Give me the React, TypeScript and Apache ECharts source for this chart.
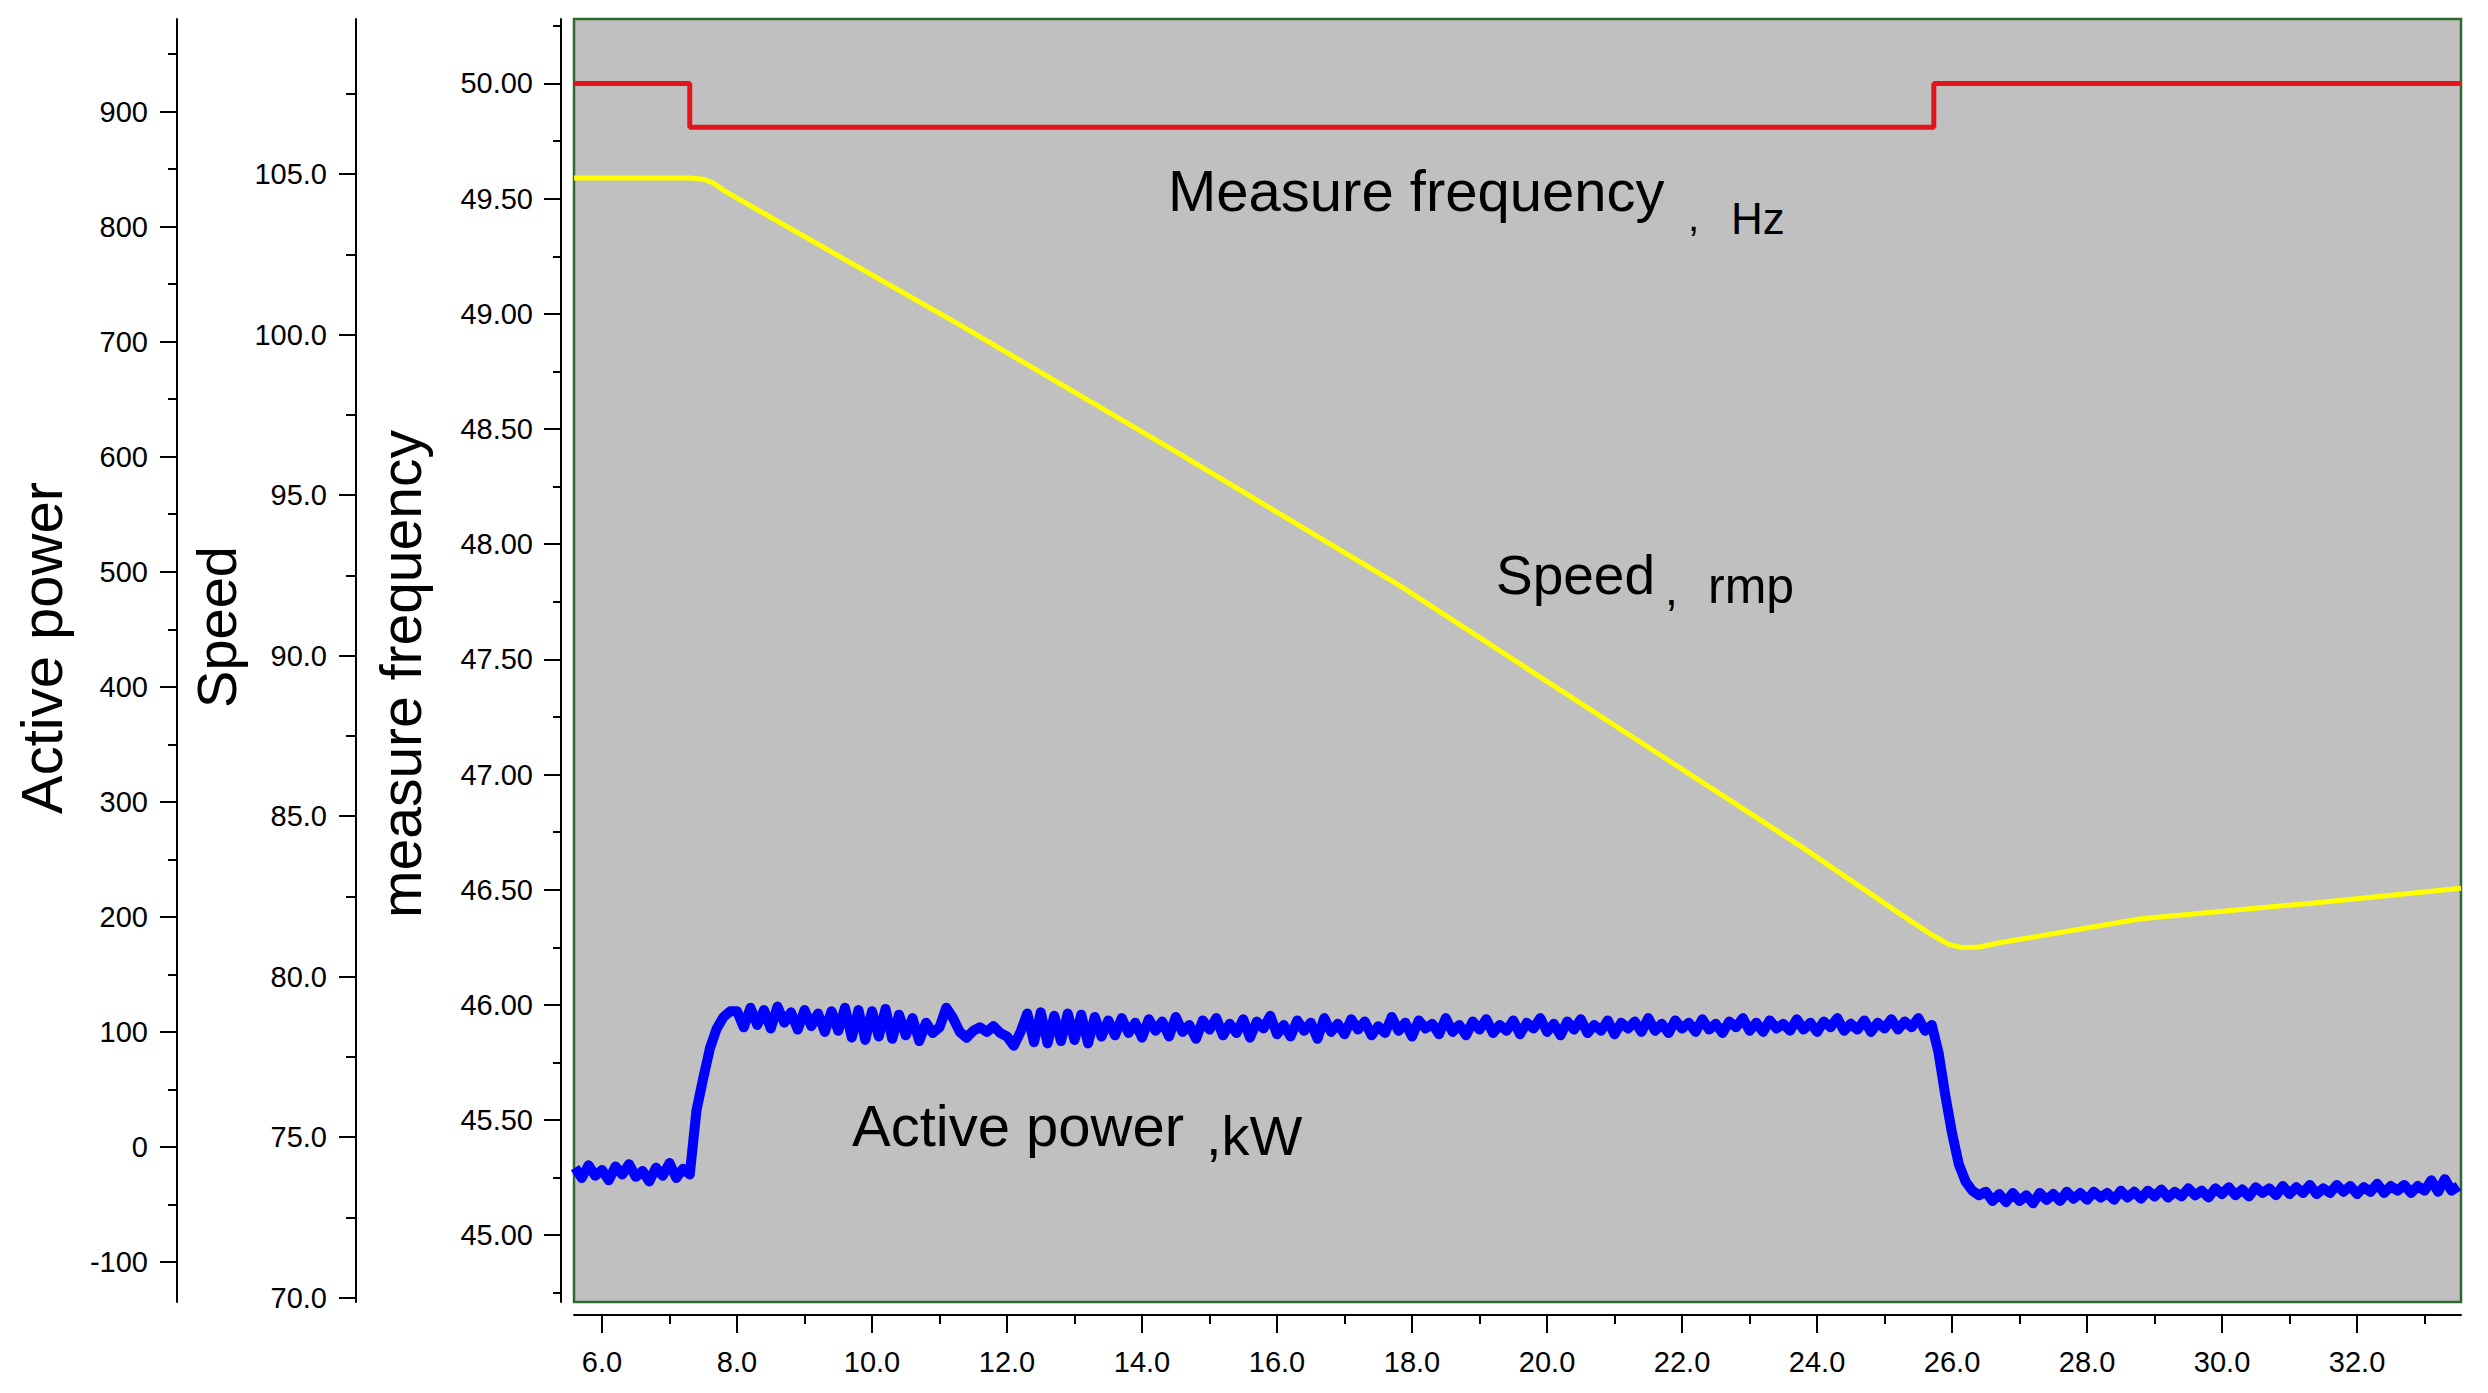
import React, { useEffect, useRef } from "react";
import * as echarts from "echarts";

const FONT = '"Liberation Sans", Arial, sans-serif';

// ---- axis ranges ----
const X_RANGE = [5.585, 33.54];
const FREQ_RANGE = [44.71, 50.28];
const SPEED_RANGE = [69.86, 109.83];
const POWER_RANGE = [-134.8, 980.5];

// ---- tick values ----
const X_LABELS = [6, 8, 10, 12, 14, 16, 18, 20, 22, 24, 26, 28, 30, 32];
const X_MINOR = [7, 9, 11, 13, 15, 17, 19, 21, 23, 25, 27, 29, 31, 33];
const FREQ_LABELS = [45, 45.5, 46, 46.5, 47, 47.5, 48, 48.5, 49, 49.5, 50];
const FREQ_MINOR = [44.75, 45.25, 45.75, 46.25, 46.75, 47.25, 47.75, 48.25, 48.75, 49.25, 49.75, 50.25];
const SPEED_LABELS = [70, 75, 80, 85, 90, 95, 100, 105];
const SPEED_MINOR = [72.5, 77.5, 82.5, 87.5, 92.5, 97.5, 102.5, 107.5];
const POWER_LABELS = [-100, 0, 100, 200, 300, 400, 500, 600, 700, 800, 900];
const POWER_MINOR = [-50, 50, 150, 250, 350, 450, 550, 650, 750, 850, 950];

// ---- measured frequency (Hz) ----
const FREQ_T = [5.585, 7.3, 7.3, 25.73, 25.73, 33.54];
const FREQ_HZ = [50.0, 50.0, 49.81, 49.81, 50.0, 50.0];

// ---- speed (rpm) ----
const SPEED_T = [5.585, 7.3, 7.5, 7.65, 7.8, 8.0, 11.3, 14.5, 17.8, 20.8, 23.8, 25.3, 25.7, 25.95, 26.15, 26.4, 26.7, 28.8, 31.4, 33.54];
const SPEED_RPM = [104.88, 104.88, 104.84, 104.72, 104.5, 104.25, 100.3, 96.35, 92.2, 88.1, 84.0, 81.85, 81.3, 81.0, 80.9, 80.92, 81.05, 81.8, 82.3, 82.75];

// ---- active power (kW), sampled every 0.1 s, rows: [start time, values] ----
const POWER_DT = 0.1;
const POWER_ROWS: [number, number[]][] = [
  [5.6, [-18, -27, -16, -25]],
  [6.0, [-20, -29, -17, -24, -15, -26, -21, -30, -18, -25]],
  [7.0, [-14, -27, -19, -24, 32, 60, 86, 103, 113, 118]],
  [8.0, [118, 104, 121, 106, 119, 103, 122, 108, 117, 102]],
  [9.0, [119, 105, 116, 100, 118, 101, 121, 95, 119, 93]],
  [10.0, [118, 96, 120, 94, 115, 97, 112, 92, 108, 99]],
  [11.0, [104, 121, 112, 100, 95, 101, 104, 100, 105, 99]],
  [12.0, [96, 88, 100, 116, 91, 117, 90, 114, 92, 116]],
  [13.0, [93, 115, 90, 113, 96, 110, 97, 112, 99, 108]],
  [14.0, [95, 111, 101, 109, 96, 113, 100, 106, 94, 110]],
  [15.0, [102, 112, 97, 107, 99, 111, 95, 109, 103, 114]],
  [16.0, [98, 106, 96, 110, 101, 108, 94, 112, 100, 107]],
  [17.0, [98, 111, 102, 109, 97, 105, 99, 113, 101, 108]],
  [18.0, [96, 110, 103, 107, 98, 112, 100, 106, 97, 109]],
  [19.0, [102, 111, 99, 106, 101, 110, 98, 108, 103, 112]],
  [20.0, [100, 107, 97, 109, 102, 111, 99, 106, 101, 110]],
  [21.0, [98, 108, 103, 109, 100, 112, 101, 107, 99, 110]],
  [22.0, [103, 108, 100, 111, 102, 107, 99, 109, 104, 112]],
  [23.0, [101, 108, 100, 110, 103, 107, 101, 111, 102, 108]],
  [24.0, [100, 109, 104, 112, 101, 107, 102, 110, 100, 108]],
  [25.0, [103, 111, 102, 109, 104, 112, 101, 106, 82, 45]],
  [26.0, [12, -15, -30, -38, -42, -39, -47, -41, -48, -40]],
  [27.0, [-47, -42, -49, -40, -46, -41, -47, -39, -45, -40]],
  [28.0, [-46, -39, -44, -40, -46, -38, -44, -39, -45, -38]],
  [29.0, [-43, -37, -44, -39, -43, -36, -42, -38, -44, -36]],
  [30.0, [-41, -35, -42, -37, -43, -35, -40, -36, -42, -34]],
  [31.0, [-41, -35, -40, -33, -41, -36, -40, -33, -39, -34]],
  [32.0, [-41, -35, -39, -32, -40, -34, -38, -33, -40, -34]],
  [33.0, [-38, -29, -39, -28, -38, -34]],
];

const zip = (a: number[], b: number[]) => a.map((v, i) => [v, b[i]]);

function powerPoints() {
  const pts: number[][] = [];
  POWER_ROWS.forEach(([t0, vals]) => {
    vals.forEach((v, k) => pts.push([Math.round((t0 + k * POWER_DT) * 100) / 100, v]));
  });
  return pts;
}

const black = "#000000";

function mainAxis(range: number[], offset: number, labels: number[], fmt: (v: number) => string, tickLen: number, margin: number) {
  return {
    type: "value",
    min: range[0],
    max: range[1],
    offset,
    axisLine: { show: true, onZero: false, lineStyle: { color: black, width: 2 } },
    axisTick: { show: true, customValues: labels, length: tickLen, lineStyle: { color: black, width: 2 } },
    axisLabel: {
      show: true,
      customValues: labels,
      formatter: (v: number) => fmt(v),
      color: black,
      fontSize: 29,
      fontFamily: FONT,
      margin,
    },
    splitLine: { show: false },
  };
}

function minorAxis(range: number[], offset: number, values: number[], tickLen: number) {
  return {
    type: "value",
    min: range[0],
    max: range[1],
    offset,
    axisLine: { show: false, onZero: false },
    axisTick: { show: true, customValues: values, length: tickLen, lineStyle: { color: black, width: 2 } },
    axisLabel: { show: false },
    splitLine: { show: false },
  };
}

function txt(text: string, x: number, y: number, size: number, align: string, rotation = 0) {
  return {
    type: "text",
    x,
    y,
    rotation,
    z: 100,
    style: {
      text,
      fill: black,
      font: `normal ${size}px ${FONT}`,
      textAlign: align,
      textVerticalAlign: "middle",
      align,
      verticalAlign: "middle",
    },
  };
}

export default function App() {
  const ref = useRef<HTMLDivElement>(null);

  useEffect(() => {
    if (!ref.current) return;
    const chart = echarts.init(ref.current, null, { renderer: "svg" });
    const option: any = {
      animation: false,
      backgroundColor: "#ffffff",
      grid: {
        left: 574,
        top: 19,
        right: 27,
        bottom: 91,
        show: true,
        backgroundColor: "#c0c0c0",
        borderColor: "#2e6a2e",
        borderWidth: 2.5,
        containLabel: false,
        outerBoundsMode: "none",
      },
      xAxis: [
        { ...mainAxis(X_RANGE, 13, X_LABELS, (v) => v.toFixed(1), 18, 32), position: "bottom" },
        { ...minorAxis(X_RANGE, 13, X_MINOR, 9), position: "bottom" },
      ],
      yAxis: [
        { ...mainAxis(FREQ_RANGE, 13, FREQ_LABELS, (v) => v.toFixed(2), 17, 28), position: "left" },
        { ...minorAxis(FREQ_RANGE, 13, FREQ_MINOR, 8), position: "left" },
        { ...mainAxis(SPEED_RANGE, 218, SPEED_LABELS, (v) => v.toFixed(1), 17, 29), position: "left" },
        { ...minorAxis(SPEED_RANGE, 218, SPEED_MINOR, 10), position: "left" },
        { ...mainAxis(POWER_RANGE, 397, POWER_LABELS, (v) => String(Math.round(v)), 17, 29), position: "left" },
        { ...minorAxis(POWER_RANGE, 397, POWER_MINOR, 9), position: "left" },
      ],
      series: [
        {
          name: "Measure frequency",
          type: "line",
          xAxisIndex: 0,
          yAxisIndex: 0,
          data: zip(FREQ_T, FREQ_HZ),
          symbol: "none",
          lineStyle: { color: "#e3141b", width: 5 },
        },
        {
          name: "Speed",
          type: "line",
          xAxisIndex: 0,
          yAxisIndex: 2,
          data: zip(SPEED_T, SPEED_RPM),
          symbol: "none",
          lineStyle: { color: "#ffff00", width: 5 },
        },
        {
          name: "Active power",
          type: "line",
          xAxisIndex: 0,
          yAxisIndex: 4,
          data: powerPoints(),
          symbol: "none",
          lineStyle: { color: "#0000ff", width: 10, join: "round" },
        },
      ],
      graphic: [
        txt("Active power", 41, 648, 58, "center", Math.PI / 2),
        txt("Speed", 216, 627, 56, "center", Math.PI / 2),
        txt("measure frequency", 401, 674, 57, "center", Math.PI / 2),
        txt("Measure frequency", 1168, 190, 58, "left"),
        txt(",", 1688, 217, 40, "left"),
        txt("Hz", 1731, 218, 44, "left"),
        txt("Speed", 1496, 575, 55, "left"),
        txt(",", 1665, 589, 46, "left"),
        txt("rmp", 1708, 586, 50, "left"),
        txt("Active power", 852, 1125, 58, "left"),
        txt(",kW", 1206, 1135, 56, "left"),
      ],
    };
    chart.setOption(option);
    return () => chart.dispose();
  }, []);

  return (
    <div
      ref={ref}
      style={{ position: "absolute", left: 0, top: 0, width: 2488, height: 1393 }}
    />
  );
}
